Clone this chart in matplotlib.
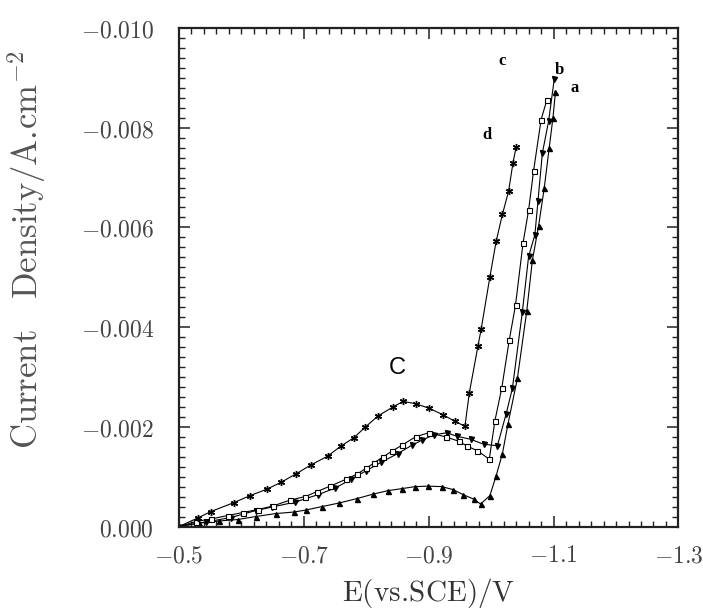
import matplotlib
matplotlib.use("Agg")
import matplotlib.pyplot as plt
from matplotlib.ticker import MultipleLocator

plt.rcParams['mathtext.fontset'] = 'cm'

# ---- data ----
E_a = [-0.500, -0.532, -0.564, -0.594, -0.623, -0.655, -0.684, -0.703, -0.729, -0.756,
       -0.785, -0.811, -0.835, -0.857, -0.878, -0.899, -0.921, -0.939, -0.955, -0.972,
       -0.983, -0.998, -1.008, -1.018, -1.027, -1.042, -1.057, -1.066, -1.076, -1.085,
       -1.093, -1.099, -1.103]
J_a = [0.0, -0.00007, -0.00011, -0.00014, -0.00020, -0.00026, -0.00029, -0.00033, -0.00040, -0.00047,
       -0.00056, -0.00065, -0.00072, -0.00076, -0.00080, -0.00081, -0.00080, -0.00074, -0.00064, -0.00055,
       -0.00045, -0.00062, -0.00102, -0.00146, -0.00206, -0.00297, -0.00432, -0.00534, -0.00603, -0.00679,
       -0.00760, -0.00820, -0.00872]

E_b = [-0.500, -0.543, -0.583, -0.623, -0.649, -0.686, -0.723, -0.750, -0.776, -0.800,
       -0.824, -0.850, -0.873, -0.889, -0.908, -0.929, -0.945, -0.967, -0.988, -1.010,
       -1.024, -1.034, -1.050, -1.060, -1.070, -1.075, -1.082, -1.092, -1.101]
J_b = [0.0, -0.00009, -0.00018, -0.00032, -0.00039, -0.00049, -0.00064, -0.00077, -0.00095, -0.00112,
       -0.00129, -0.00146, -0.00163, -0.00173, -0.00184, -0.00188, -0.00181, -0.00175, -0.00165, -0.00162,
       -0.00226, -0.00277, -0.00431, -0.00542, -0.00585, -0.00653, -0.00749, -0.00813, -0.00897]

E_c = [-0.500, -0.527, -0.551, -0.578, -0.602, -0.626, -0.650, -0.678, -0.702, -0.721,
       -0.742, -0.768, -0.785, -0.800, -0.813, -0.826, -0.841, -0.857, -0.879, -0.900,
       -0.927, -0.948, -0.962, -0.978, -0.997, -1.006, -1.017, -1.029, -1.039, -1.051,
       -1.060, -1.068, -1.080, -1.089]
J_c = [0.0, -0.00010, -0.00015, -0.00022, -0.00028, -0.00034, -0.00041, -0.00053, -0.00060, -0.00070,
       -0.00081, -0.00095, -0.00105, -0.00117, -0.00128, -0.00139, -0.00151, -0.00163, -0.00180, -0.00188,
       -0.00180, -0.00171, -0.00161, -0.00152, -0.00135, -0.00212, -0.00278, -0.00374, -0.00444, -0.00568,
       -0.00635, -0.00714, -0.00816, -0.00855]

E_d = [-0.500, -0.530, -0.551, -0.588, -0.614, -0.641, -0.664, -0.688, -0.712, -0.738,
       -0.759, -0.780, -0.798, -0.819, -0.843, -0.859, -0.880, -0.901, -0.923, -0.942,
       -0.958, -0.965, -0.979, -0.984, -0.998, -1.008, -1.018, -1.028, -1.035, -1.040]
J_d = [0.0, -0.00017, -0.00030, -0.00048, -0.00062, -0.00075, -0.00089, -0.00106, -0.00124, -0.00141,
       -0.00161, -0.00178, -0.00199, -0.00222, -0.00240, -0.00251, -0.00246, -0.00237, -0.00224, -0.00211,
       -0.00201, -0.00268, -0.00363, -0.00396, -0.00501, -0.00572, -0.00626, -0.00673, -0.00730, -0.00761]

curve_labels = ['a', 'b', 'c', 'd']
label_E = [-1.133, -1.110, -1.018, -0.994]
label_J = [-0.00879, -0.00915, -0.00933, -0.00786]

x_ticks = [-0.5, -0.7, -0.9, -1.1, -1.3]
x_ticklabels = ['$-0.5$', '$-0.7$', '$-0.9$', '$-1.1$', '$-1.3$']
y_ticks = [0.000, -0.002, -0.004, -0.006, -0.008, -0.010]
y_ticklabels = ['$0.000$', '$-0.002$', '$-0.004$', '$-0.006$', '$-0.008$', '$-0.010$']

# ---- figure ----
fig = plt.figure(figsize=(7.03, 6.14), dpi=100)
ax = fig.add_axes([0.2546, 0.1425, 0.7105, 0.8119])

lw = 0.8
ms = 3.6
ax.plot(E_a, J_a, color='black', lw=lw, marker='^', ms=ms, mfc='black', mec='black')
ax.plot(E_b, J_b, color='black', lw=lw, marker='v', ms=ms, mfc='black', mec='black')
ax.plot(E_c, J_c, color='black', lw=lw, marker='s', ms=ms, mfc='white', mec='black', mew=0.8)
ax.plot(E_d, J_d, color='black', lw=lw, marker=(6, 2, 0), ms=ms + 1.5, mec='black', mew=1.0)

for t, xe, yj in zip(curve_labels, label_E, label_J):
    ax.text(xe, yj, t, fontsize=12, fontweight='bold', family='Liberation Serif',
            ha='center', va='center')
ax.text(-0.849, -0.00317, 'C', fontsize=17, family='Liberation Sans',
        ha='center', va='center')

ax.set_xlim(-0.5, -1.3)
ax.set_ylim(0.0, -0.010)

ax.set_xticks(x_ticks)
ax.set_xticklabels(x_ticklabels)
ax.set_yticks(y_ticks)
ax.set_yticklabels(y_ticklabels)
ax.xaxis.set_minor_locator(MultipleLocator(0.02))
ax.yaxis.set_minor_locator(MultipleLocator(0.0002))

ax.tick_params(which='both', direction='in', top=True, right=True, color='#222222')
ax.tick_params(which='major', length=8, width=1.1, labelsize=17, labelcolor='#444444', pad=12)
ax.tick_params(which='minor', length=4.5, width=1.0)
ax.tick_params(axis='y', which='major', pad=18)

for s in ax.spines.values():
    s.set_linewidth(1.6)
    s.set_color('#222222')

ax.set_xlabel(r'$\mathrm{E(vs.\!SCE)/V}$', fontsize=21, color='#333333', labelpad=6)
ax.set_ylabel(r'$\mathrm{Current\ \ \ Density/A.\!cm^{-2}}$', fontsize=25, color='#555555')
ax.yaxis.set_label_coords(-0.262, 0.554)

fig.savefig('out.png', dpi=100)
